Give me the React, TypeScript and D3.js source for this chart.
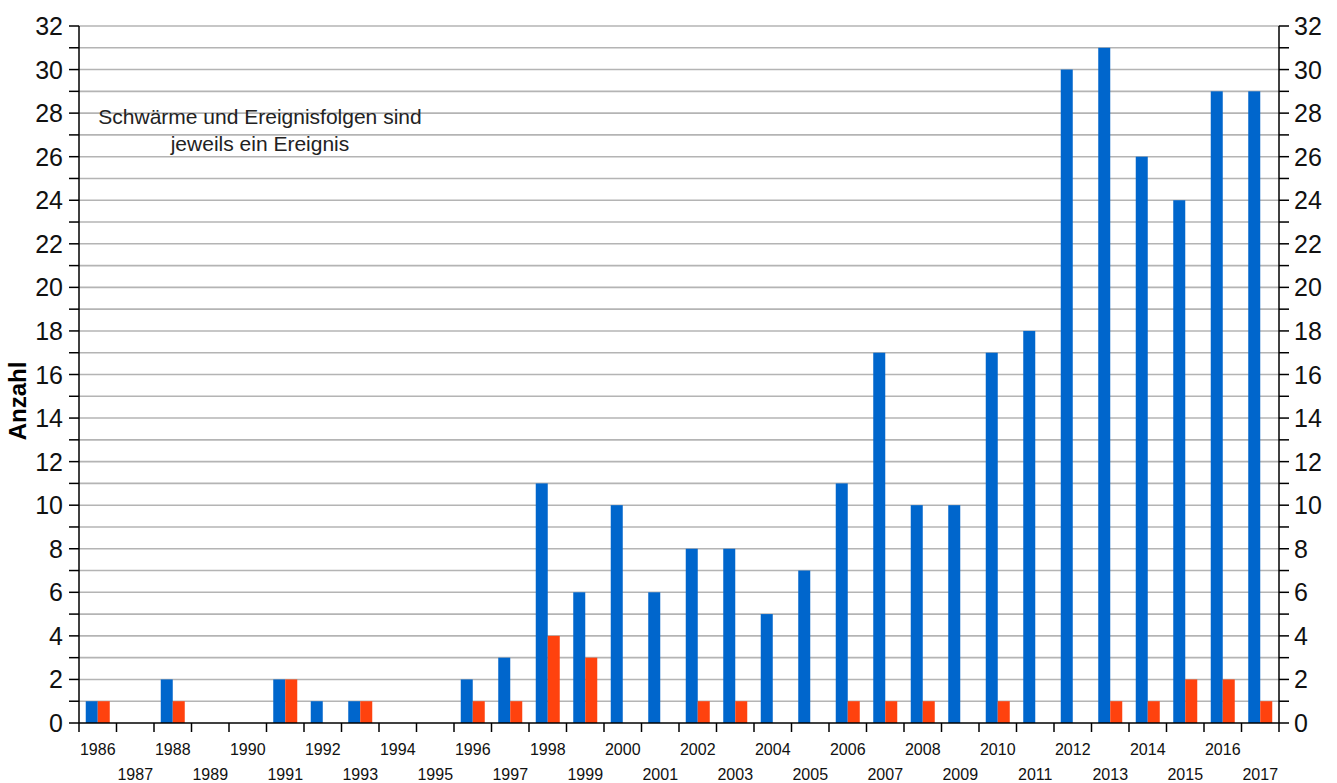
import React, { useEffect, useRef } from 'react';
import * as d3 from 'd3';

const years = d3.range(1986, 2018).map(String);
const blueValues = [1, 0, 2, 0, 0, 2, 1, 1, 0, 0, 2, 3, 11, 6, 10, 6, 8, 8, 5, 7, 11, 17, 10, 10, 17, 18, 30, 31, 26, 24, 29, 29];
const redValues = [1, 0, 1, 0, 0, 2, 0, 1, 0, 0, 1, 1, 4, 3, 0, 0, 1, 1, 0, 0, 1, 1, 1, 0, 1, 0, 0, 1, 1, 2, 2, 1];
const yMajorTicks = d3.range(0, 33, 2);
const yMinorTicks = d3.range(0, 33, 1);
const noteLines = ['Schwärme und Ereignisfolgen sind', 'jeweils ein Ereignis'];

const W = 1337;
const H = 783;

const App: React.FC = () => {
  const svgRef = useRef<SVGSVGElement>(null);

  useEffect(() => {
    if (!svgRef.current) return;
    const svg = d3.select(svgRef.current);
    svg.selectAll('*').remove();

    const margin = { top: 26, right: 58, bottom: 60, left: 79 };
    const innerW = W - margin.left - margin.right;
    const innerH = H - margin.top - margin.bottom;
    const font = '"Liberation Sans", Arial, sans-serif';

    const g = svg.append('g').attr('transform', `translate(${margin.left},${margin.top})`);

    const x = d3.scaleBand().domain(years).range([0, innerW]).paddingInner(0).paddingOuter(0);
    const y = d3.scaleLinear().domain([0, 32]).range([innerH, 0]);

    const groupW = x.bandwidth() * 0.64;
    const barW = groupW / 2;
    const offset = (x.bandwidth() - groupW) / 2;

    // grid
    g.append('g')
      .selectAll('line')
      .data(yMinorTicks.filter(d => d > 0))
      .join('line')
      .attr('x1', 0)
      .attr('x2', innerW)
      .attr('y1', d => y(d))
      .attr('y2', d => y(d))
      .attr('stroke', '#b4b4b4')
      .attr('stroke-width', 1.6);

    // bars
    const rows = years.map((yr, i) => ({ yr, blue: blueValues[i], red: redValues[i] }));
    g.append('g')
      .selectAll('rect')
      .data(rows.filter(d => d.blue > 0))
      .join('rect')
      .attr('x', d => (x(d.yr) || 0) + offset)
      .attr('y', d => y(d.blue))
      .attr('width', barW)
      .attr('height', d => innerH - y(d.blue))
      .attr('fill', '#0066cc');
    g.append('g')
      .selectAll('rect')
      .data(rows.filter(d => d.red > 0))
      .join('rect')
      .attr('x', d => (x(d.yr) || 0) + offset + barW)
      .attr('y', d => y(d.red))
      .attr('width', barW)
      .attr('height', d => innerH - y(d.red))
      .attr('fill', '#ff420e');

    // left axis
    const left = g.append('g');
    left.append('line').attr('x1', 0).attr('x2', 0).attr('y1', 0).attr('y2', innerH).attr('stroke', '#000').attr('stroke-width', 1.5);
    left.selectAll('line.t')
      .data(yMinorTicks)
      .join('line')
      .attr('class', 't')
      .attr('x1', -10).attr('x2', 0)
      .attr('y1', d => y(d)).attr('y2', d => y(d))
      .attr('stroke', '#000').attr('stroke-width', 1.5);
    left.selectAll('text')
      .data(yMajorTicks)
      .join('text')
      .attr('x', -16)
      .attr('y', d => y(d))
      .attr('dy', '0.36em')
      .attr('text-anchor', 'end')
      .style('font-family', font)
      .style('font-size', '25px')
      .style('fill', '#111')
      .text(d => d);

    // right axis
    const right = g.append('g').attr('transform', `translate(${innerW},0)`);
    right.append('line').attr('x1', 0).attr('x2', 0).attr('y1', 0).attr('y2', innerH).attr('stroke', '#000').attr('stroke-width', 1.5);
    right.selectAll('line.t')
      .data(yMinorTicks)
      .join('line')
      .attr('class', 't')
      .attr('x1', 0).attr('x2', 10)
      .attr('y1', d => y(d)).attr('y2', d => y(d))
      .attr('stroke', '#000').attr('stroke-width', 1.5);
    right.selectAll('text')
      .data(yMajorTicks)
      .join('text')
      .attr('x', 15)
      .attr('y', d => y(d))
      .attr('dy', '0.36em')
      .attr('text-anchor', 'start')
      .style('font-family', font)
      .style('font-size', '25px')
      .style('fill', '#111')
      .text(d => d);

    // bottom axis
    const bottom = g.append('g').attr('transform', `translate(0,${innerH})`);
    bottom.append('line').attr('x1', 0).attr('x2', innerW).attr('stroke', '#000').attr('stroke-width', 1.5);
    bottom.selectAll('line.t')
      .data([...years, 'end'])
      .join('line')
      .attr('class', 't')
      .attr('x1', d => (d === 'end' ? innerW : x(d) || 0))
      .attr('x2', d => (d === 'end' ? innerW : x(d) || 0))
      .attr('y1', 0).attr('y2', 9)
      .attr('stroke', '#000').attr('stroke-width', 1.5);
    bottom.selectAll('text')
      .data(years)
      .join('text')
      .attr('x', d => (x(d) || 0) + x.bandwidth() / 2)
      .attr('y', (d, i) => (i % 2 === 0 ? 32 : 57))
      .attr('text-anchor', 'middle')
      .style('font-family', font)
      .style('font-size', '16px')
      .style('fill', '#111')
      .text(d => d);

    // y title
    svg.append('text')
      .attr('transform', `translate(26,401) rotate(-90)`)
      .attr('text-anchor', 'middle')
      .style('font-family', font)
      .style('font-size', '24px')
      .style('font-weight', 'bold')
      .style('fill', '#000')
      .text('Anzahl');

    // note
    svg.append('g')
      .selectAll('text')
      .data(noteLines)
      .join('text')
      .attr('x', 260)
      .attr('y', (d, i) => 124 + i * 27)
      .attr('text-anchor', 'middle')
      .style('font-family', font)
      .style('font-size', '21px')
      .style('fill', '#222')
      .text(d => d);
  }, []);

  return (
    <svg
      ref={svgRef}
      width={W}
      height={H}
      style={{ position: 'absolute', left: 0, top: 0, display: 'block', background: '#fff' }}
    />
  );
};

export default App;
